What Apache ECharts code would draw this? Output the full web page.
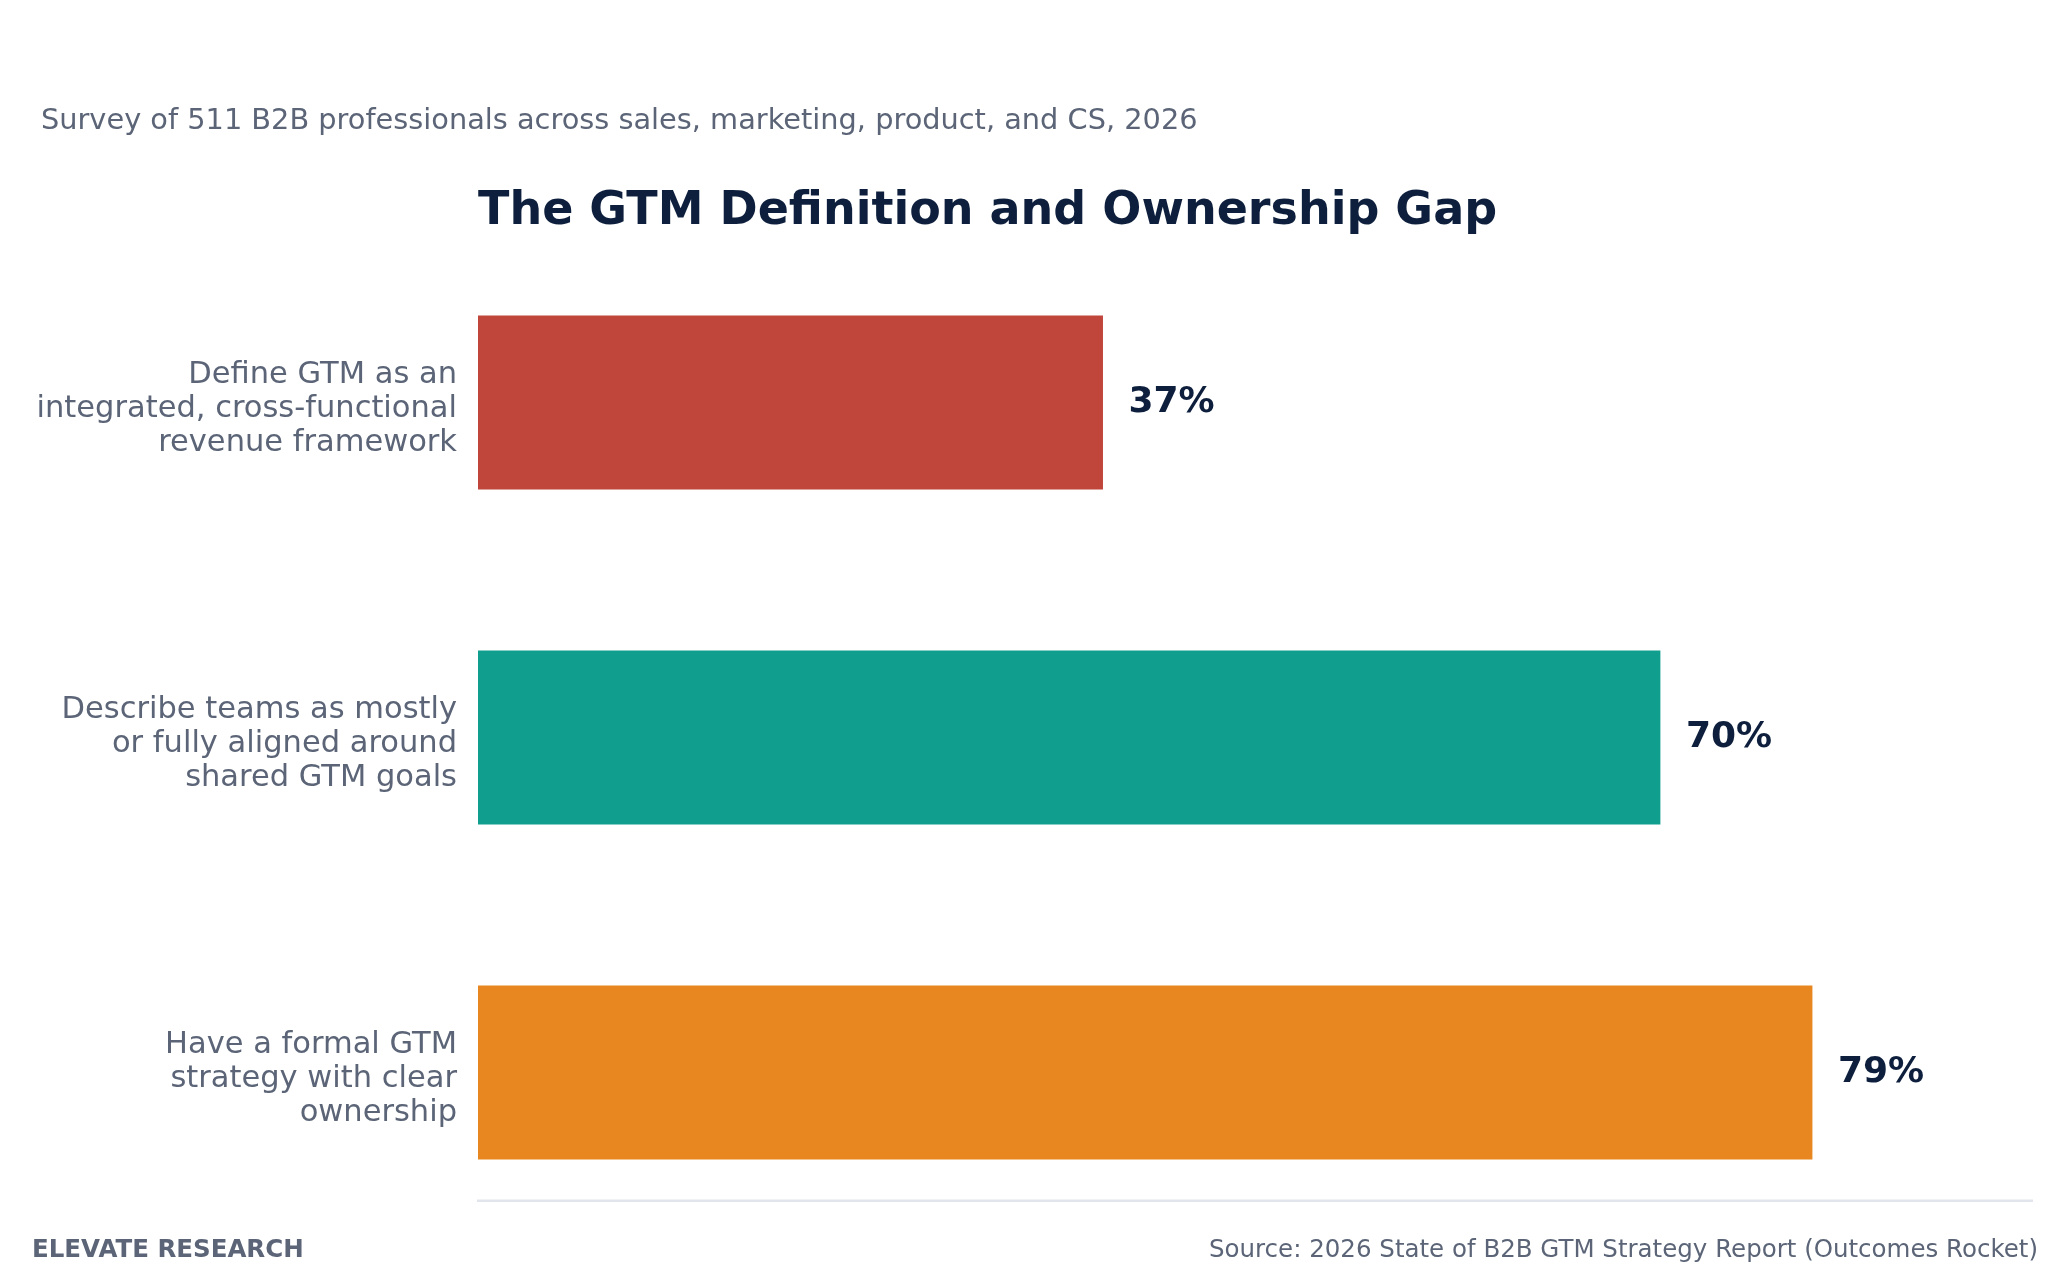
<!DOCTYPE html>
<html>
<head>
<meta charset="utf-8">
<title>The GTM Definition and Ownership Gap</title>
<script src="https://cdn.jsdelivr.net/npm/echarts@6/dist/echarts.min.js"></script>
<style>
  html, body { margin: 0; padding: 0; background: #ffffff; }
  #main { width: 2068px; height: 1276px; }
</style>
</head>
<body>
<div id="main"></div>
<script>
// chart data
const categories = [
  'Define GTM as an\nintegrated, cross-functional\nrevenue framework',
  'Describe teams as mostly\nor fully aligned around\nshared GTM goals',
  'Have a formal GTM\nstrategy with clear\nownership'
]
const values = [37, 70, 79]
const barColors = ['#c0453b', '#109e8f', '#e8871f']

const subtitleText = 'Survey of 511 B2B professionals across sales, marketing, product, and CS, 2026'
const titleText = 'The GTM Definition and Ownership Gap'
const brandText = 'ELEVATE RESEARCH'
const sourceText = 'Source: 2026 State of B2B GTM Strategy Report (Outcomes Rocket)'

const font = 'DejaVu Sans'
const navy = '#0d1f3c'
const slate = '#5b6577'

const chart = echarts.init(document.getElementById('main'), null, { renderer: 'canvas' })

// category labels sit a little below the bar centre, so a short empty
// line is put on top of each label block
function labelFormatter(value) {
  return '{gap| }\n' + value.split('\n').map(s => '{t|' + s + '}').join('\n')
}

const option = {
  backgroundColor: '#ffffff',
  animation: false,
  title: [{
    text: subtitleText,
    left: 41,
    top: 107,
    padding: 0,
    textStyle: { fontFamily: font, fontSize: 28.8, fontWeight: 'normal', color: slate }
  }, {
    text: titleText,
    left: 478,
    top: 189,
    padding: 0,
    textStyle: { fontFamily: font, fontSize: 46, fontWeight: 'bold', color: navy }
  }, {
    text: brandText,
    left: 32,
    top: 1238,
    padding: 0,
    textStyle: { fontFamily: font, fontSize: 24.5, fontWeight: 'bold', color: slate }
  }, {
    text: sourceText,
    right: 30,
    top: 1238,
    padding: 0,
    textStyle: { fontFamily: font, fontSize: 24.5, fontWeight: 'normal', color: slate }
  }],
  grid: {
    left: 478,
    right: 36,
    top: 235,
    bottom: 36,
    containLabel: false
  },
  xAxis: {
    type: 'value',
    min: 0,
    max: 92,
    show: false
  },
  yAxis: {
    type: 'category',
    inverse: true,
    data: categories,
    axisLine: { show: false },
    axisTick: { show: false },
    axisLabel: {
      margin: 21,
      align: 'right',
      formatter: labelFormatter,
      rich: {
        gap: { fontSize: 10, lineHeight: 13 },
        t: { fontFamily: font, fontSize: 30.5, lineHeight: 34, color: slate }
      }
    }
  },
  graphic: [{
    // thin rule under the plot
    type: 'rect',
    shape: { x: 477, y: 1199.5, width: 1556, height: 2.5 },
    style: { fill: '#e2e6ec' },
    silent: true
  }],
  series: [{
    type: 'bar',
    barWidth: 174,
    data: values.map((v, i) => ({
      value: v,
      itemStyle: { color: barColors[i] }
    })),
    label: {
      show: true,
      position: 'right',
      distance: 25.5,
      formatter: '{c}%',
      fontFamily: font,
      fontSize: 36,
      fontWeight: 'bold',
      color: navy
    }
  }]
}

chart.setOption(option)
</script>
</body>
</html>
